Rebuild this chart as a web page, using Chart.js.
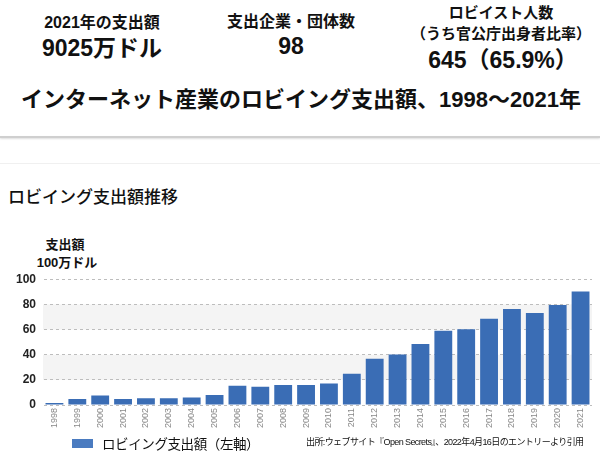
<!DOCTYPE html>
<html>
<head>
<meta charset="utf-8">
<script src="https://cdn.jsdelivr.net/npm/chart.js@4"></script>
<style>
  body { margin: 0; width: 600px; height: 455px; background: #fff; position: relative; overflow: hidden;
         font-family: "Liberation Sans", "Noto Sans CJK JP", sans-serif; color: #111; }
  .t { position: absolute; white-space: nowrap; transform: translate(-50%, -50%); font-weight: bold; }
  .l { position: absolute; white-space: nowrap; transform: translateY(-50%); }
  #sep1 { position: absolute; left: 0; top: 136px; width: 600px; height: 2px; background: #cfcfcf; box-shadow: 0 1px 2px #ddd; }
  #sep2 { position: absolute; left: 0; top: 163px; width: 600px; height: 1px; background: #f0f0f0; }
</style>
</head>
<body>
<div class="t" style="left:102px;top:21px;font-size:16px">2021年の支出額</div>
<div class="t" style="left:102px;top:46px;font-size:23px">9025万ドル</div>
<div class="t" style="left:291px;top:20px;font-size:16px">支出企業・団体数</div>
<div class="t" style="left:291px;top:46px;font-size:23px">98</div>
<div class="t" style="left:501px;top:11px;font-size:15px">ロビイスト人数</div>
<div class="t" style="left:501px;top:32px;font-size:15px">（うち官公庁出身者比率）</div>
<div class="t" style="left:503px;top:58px;font-size:23px">645（65.9%）</div>
<div class="t" style="left:301px;top:97px;font-size:22px">インターネット産業のロビイング支出額、1998～2021年</div>
<div id="sep1"></div>
<div id="sep2"></div>
<div class="l" style="left:8px;top:195px;font-size:17px;font-weight:500">ロビイング支出額推移</div>
<div class="t" style="left:65px;top:243px;font-size:13px">支出額</div>
<div class="t" style="left:67px;top:261px;font-size:13px">100万ドル</div>
<canvas id="chart" width="600" height="185" style="position:absolute;left:0;top:265px"></canvas>
<div style="position:absolute;left:72px;top:439px;width:21px;height:9px;background:#4a7bc0"></div>
<div class="l" style="left:102px;top:443px;font-size:13.5px;letter-spacing:-0.4px">ロビイング支出額（左軸）</div>
<div class="l" style="left:306px;top:441px;font-size:9px;letter-spacing:-0.6px">出所:ウェブサイト『Open Secrets』、2022年4月16日のエントリーより引用</div>

<script>
// lobbying spend, million USD
const years = ["1998","1999","2000","2001","2002","2003","2004","2005","2006","2007","2008","2009",
               "2010","2011","2012","2013","2014","2015","2016","2017","2018","2019","2020","2021"];
const spending = [1.6, 4.7, 7.5, 4.7, 5.4, 5.4, 6.0, 8.0, 15.3, 14.5, 15.8, 15.8,
                  17.1, 24.8, 36.7, 40.1, 48.4, 59.0, 60.3, 68.6, 76.3, 73.2, 79.4, 90.3];
const yTicks = [0, 20, 40, 60, 80, 100];
const bands = [[20, 40], [60, 80]];

const bandPlugin = {
  id: "bands",
  beforeDraw(chart) {
    const { ctx, chartArea, scales } = chart;
    ctx.save();
    ctx.fillStyle = "#f4f4f4";
    bands.forEach(([a, b]) => {
      const y1 = scales.y.getPixelForValue(b);
      const y2 = scales.y.getPixelForValue(a);
      ctx.fillRect(chartArea.left, y1, chartArea.right - chartArea.left, y2 - y1);
    });
    ctx.restore();
  }
};

new Chart(document.getElementById("chart"), {
  type: "bar",
  data: {
    labels: years,
    datasets: [{
      label: "ロビイング支出額（左軸）",
      data: spending,
      backgroundColor: "#3a6db5",
      barPercentage: 0.78,
      categoryPercentage: 1.0
    }]
  },
  options: {
    responsive: false,
    animation: false,
    layout: { padding: { top: 11, right: 8, left: 0, bottom: 20 } },
    plugins: { legend: { display: false }, tooltip: { enabled: false } },
    scales: {
      x: {
        grid: { display: false, drawTicks: false },
        border: { display: false },
        ticks: { autoSkip: false, minRotation: 90, maxRotation: 90, padding: 3,
                 color: "#888", font: { family: "Liberation Sans", size: 9 } },
        afterFit: s => { s.height = 25; }
      },
      y: {
        min: 0, max: 100,
        afterBuildTicks: s => { s.ticks = yTicks.map(v => ({ value: v })); },
        grid: { color: "#bdbdbd", drawTicks: false, lineWidth: 1 },
        border: { display: true, color: "rgba(0,0,0,0)", dash: [3, 3] },
        ticks: { padding: 7, color: "#222", font: { family: "Liberation Sans", size: 12, weight: "bold" } },
        afterFit: s => { s.width = 43; }
      }
    }
  },
  plugins: [bandPlugin]
});
</script>
</body>
</html>
